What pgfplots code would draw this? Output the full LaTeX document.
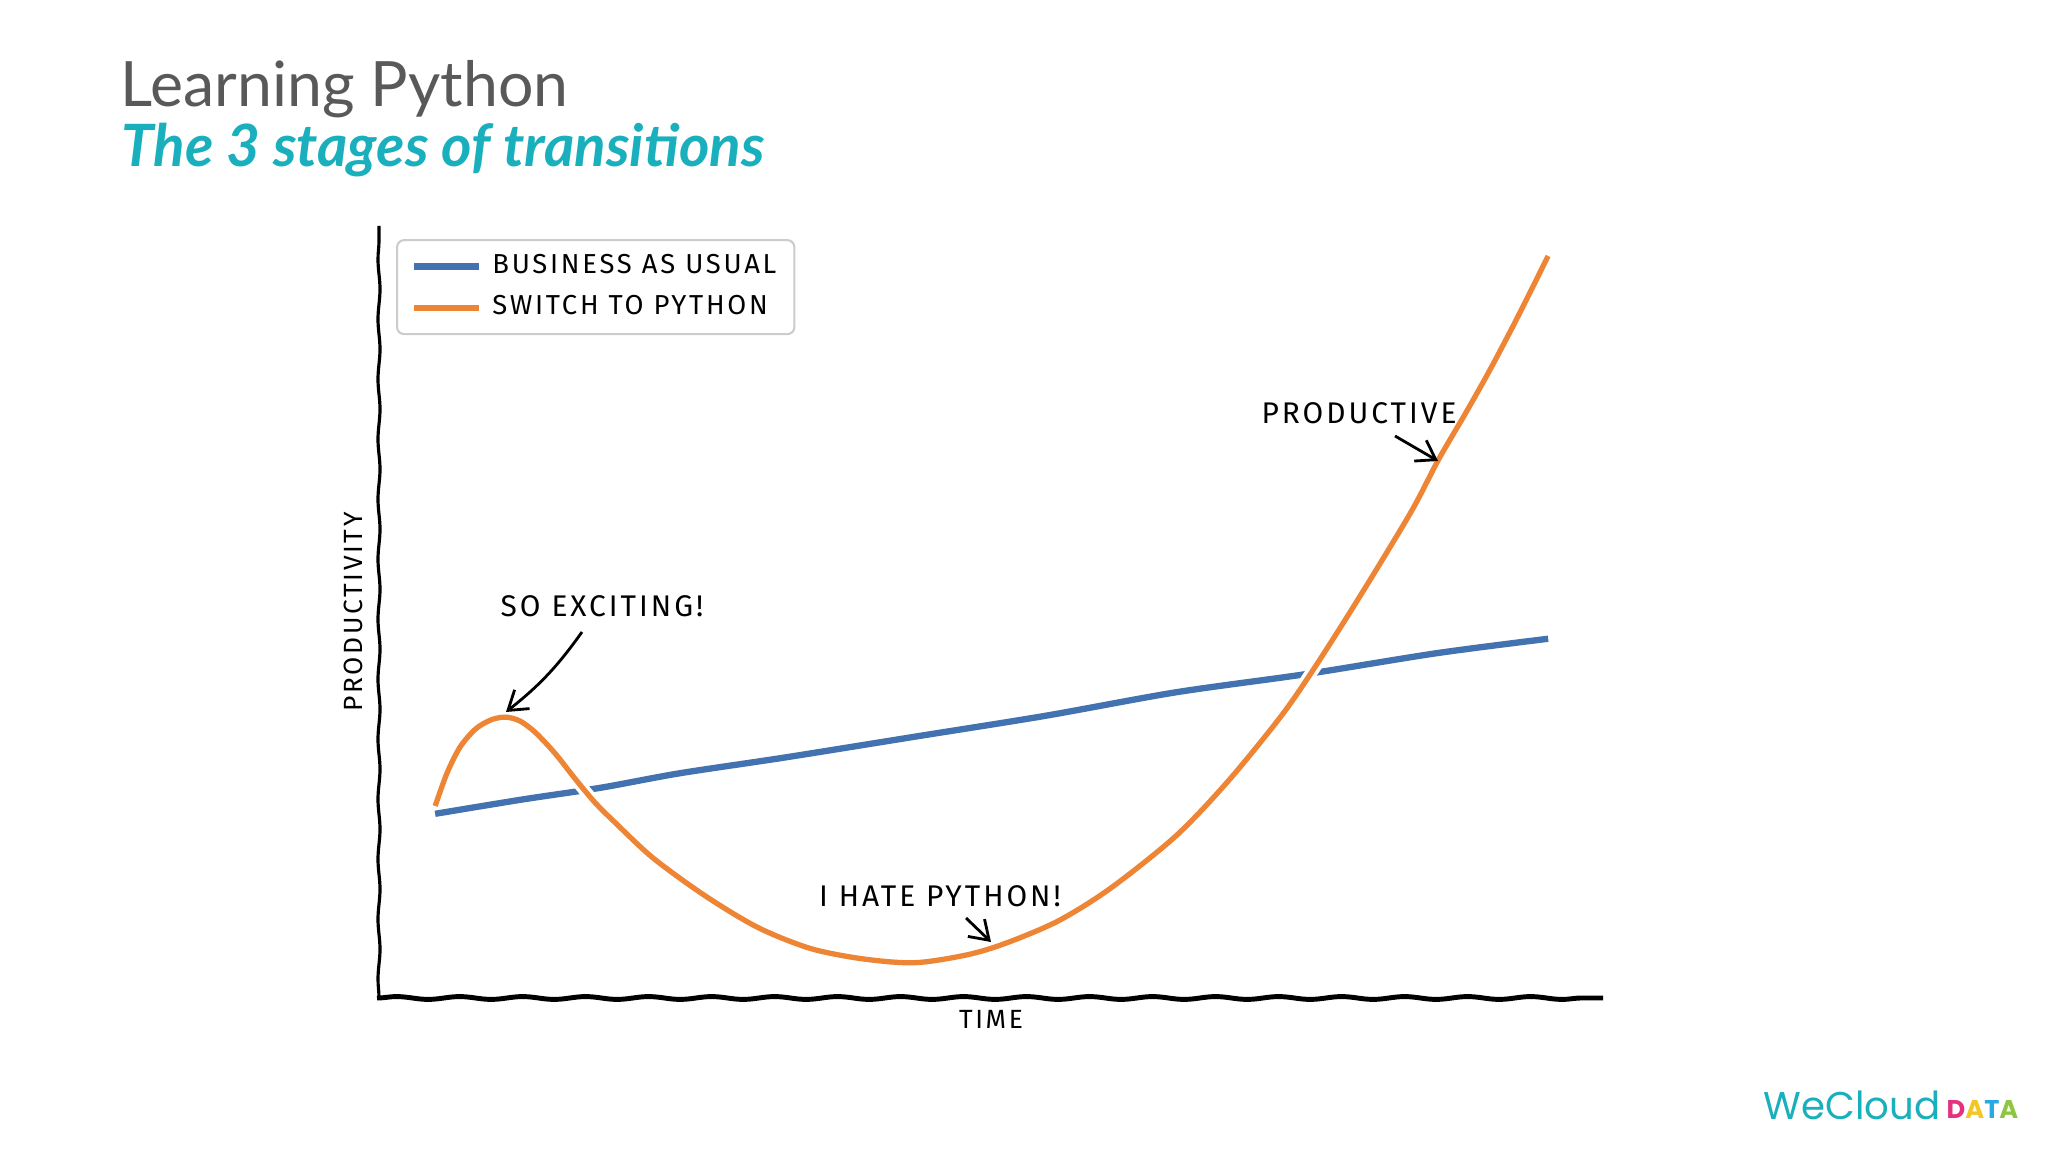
\documentclass[border=0pt]{standalone}
\usepackage{fontspec}
\setmainfont{Lato}
\newfontfamily\hand{Fira Sans}[LetterSpace=10]
\newfontfamily\logofont{Poppins}
\usepackage{pgfplots}
\pgfplotsset{compat=1.18}
\usetikzlibrary{arrows.meta,decorations.pathmorphing}

\definecolor{titlegray}{HTML}{595959}
\definecolor{subteal}{HTML}{1AAFBD}
\definecolor{xblue}{HTML}{4272B0}
\definecolor{xorange}{HTML}{EE8535}
\definecolor{dmag}{HTML}{E5317E}
\definecolor{dyel}{HTML}{F3C623}
\definecolor{dcyan}{HTML}{29A9E1}
\definecolor{dgreen}{HTML}{8DC63F}

\begin{document}
\begin{tikzpicture}
\path[use as bounding box] (0,0) rectangle (204.8mm,115.2mm);

\begin{axis}[
  at={(37.9mm,15.4mm)}, anchor=south west,
  scale only axis, width=122.4mm, height=77.2mm,
  xmin=0, xmax=937, ymin=0, ymax=591,
  axis line style={draw=none}, ticks=none, clip=false,
  xlabel={TIME}, ylabel={PRODUCTIVITY},
  label style={font=\hand\fontsize{7.5}{8}\selectfont},
  xlabel style={at={(axis description cs:0.5,0.0)}, anchor=north},
  ylabel style={at={(axis description cs:-0.003,0.5)}, anchor=south},
  legend style={at={(axis description cs:0.0139,0.983)}, anchor=north west,
    draw=black!20, line width=0.6pt, rounded corners=2pt,
    font=\hand\fontsize{7.8}{9}\selectfont,
    inner xsep=1.1mm, inner ysep=0.7mm, row sep=0.3mm,
    nodes={inner sep=0.7mm}},
  legend cell align=left,
  legend image code/.code={\draw[#1] (0mm,0mm) -- (6.5mm,0mm);},
]
\addplot[xblue, line width=1.8pt, smooth]
  coordinates {(43,141) (110,152) (170,161) (230,172) (310,184) (410,200)
    (510,216) (610,234) (710,248) (810,264) (895,275)};
\addlegendentry{BUSINESS AS USUAL}
\addplot[xorange, line width=1.5pt, smooth,
  preaction={draw=white, line width=3.5pt}]
  coordinates {(43,147) (52,172) (62,192) (74,206) (86,213) (97,215) (108,212)
    (120,203) (135,187) (150,168) (165,150) (180,135) (210,107) (250,78)
    (290,54) (330,38) (370,30) (410,27) (450,33) (480,42) (520,59) (560,84)
    (610,124) (650,166) (690,215) (715,251) (750,306) (790,372) (811,412)
    (832,448) (850,480) (870,518) (895,568)};
\addlegendentry{SWITCH TO PYTHON}
\end{axis}

\begin{scope}[x=0.1mm, y=-0.1mm, yshift=115.2mm]
  % hand-drawn spines
  \draw[line width=1.4pt, decorate, decoration={snake, amplitude=0.14mm, segment length=6.3mm}]
    (377,998) -- (1603,998);
  \draw[line width=0.9pt, decorate, decoration={snake, amplitude=0.1mm, segment length=6mm}]
    (379,998) -- (379,226);

  % annotations
  \begin{scope}[every node/.style={font=\hand\fontsize{8.5}{10}\selectfont, inner sep=0}]
    \node at (602,606) {SO EXCITING!};
    \node at (940,896) {I HATE PYTHON!};
    \node at (1359,413) {PRODUCTIVE};
  \end{scope}
  \begin{scope}[line width=0.8pt, -{Straight Barb[length=1.8mm, width=2.4mm]}]
    \draw (582,632) to[bend left=8] (506,712);
    \draw (966,918) -- (991,942);
    \draw (1395,436) -- (1438,461);
  \end{scope}

  % titles
  \node[anchor=base west, inner sep=0, text=titlegray,
    font=\fontsize{17.8}{20}\selectfont] at (120,107) {Learning Python};
  \node[anchor=base west, inner sep=0, text=subteal,
    font=\bfseries\itshape\fontsize{16.6}{19}\selectfont] at (121,167) {The 3 stages of transitions};

  % logo
  \node[anchor=base west, inner sep=0, text=subteal,
    font=\logofont\fontsize{11}{12}\selectfont] at (1763,1120) {WeCloud};
  \node[anchor=base west, inner sep=0,
    font=\logofont\bfseries\fontsize{7.3}{8}\selectfont] at (1946,1119)
    {\textcolor{dmag}{D}\textcolor{dyel}{A}\textcolor{dcyan}{T}\textcolor{dgreen}{A}};
\end{scope}
\end{tikzpicture}
\end{document}
